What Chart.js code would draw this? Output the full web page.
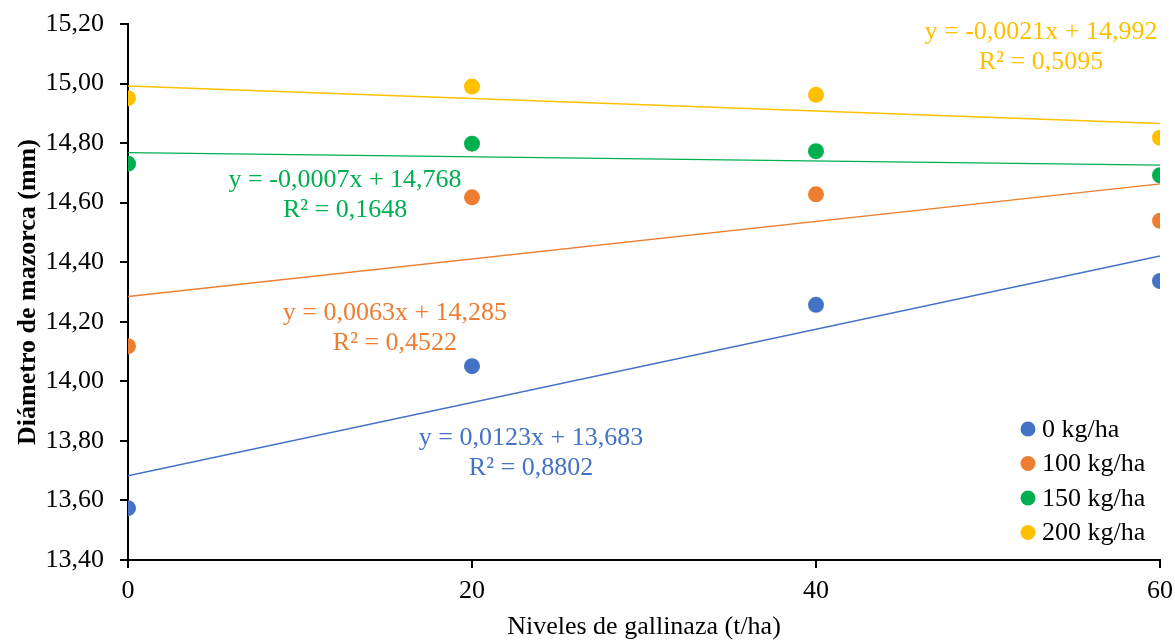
<!DOCTYPE html>
<html lang="es">
<head>
<meta charset="UTF-8">
<title>Diámetro de mazorca</title>
<script src="https://cdn.jsdelivr.net/npm/chart.js"></script>
<style>
  html, body { margin: 0; padding: 0; background: #fff; }
  #wrap { width: 1175px; height: 640px; position: relative; }
</style>
</head>
<body>
<div id="wrap"><canvas id="grafico"></canvas></div>
<script>
// niveles de gallinaza (t/ha)
var niveles = [0, 20, 40, 60];
var series = ['0 kg/ha', '100 kg/ha', '150 kg/ha', '200 kg/ha'];
var diam0 = [13.574, 14.051, 14.257, 14.337];
var diam100 = [14.118, 14.618, 14.628, 14.539];
var diam150 = [14.731, 14.798, 14.773, 14.692];
var diam200 = [14.951, 14.990, 14.962, 14.818];
// ecuaciones de tendencia que aparecen en el grafico
var pendientes = [0.0123, 0.0063, -0.0007, -0.0021];
var interceptos = [13.683, 14.285, 14.768, 14.992];
var r2 = [0.8802, 0.4522, 0.1648, 0.5095];

var colores = ['#4472C4', '#ED7D31', '#00B050', '#FFC000'];
var valores = [diam0, diam100, diam150, diam200];
// donde va cada ecuacion (en unidades de datos)
var posEtiqueta = [[23.43, 13.759], [15.52, 14.179], [12.62, 14.626], [53.08, 15.121]];

var fuente = "'Liberation Serif', 'Times New Roman', serif";

function coma(v, d) {
    return v.toFixed(d).replace('.', ',');
}

var datasets = [];
for (var i = 0; i < series.length; i++) {
    datasets.push({
        label: series[i],
        data: niveles.map(function(x, j) { return { x: x, y: valores[i][j] }; }),
        backgroundColor: colores[i],
        borderColor: colores[i],
        pointRadius: 8,
        pointHoverRadius: 8,
        pointBorderWidth: 0,
        showLine: false,
        order: 1
    });
}
for (var i = 0; i < series.length; i++) {
    var x0 = niveles[0], x1 = niveles[niveles.length - 1];
    datasets.push({
        label: 'tendencia ' + series[i],
        data: [
            { x: x0, y: interceptos[i] + pendientes[i] * x0 },
            { x: x1, y: interceptos[i] + pendientes[i] * x1 }
        ],
        borderColor: colores[i],
        backgroundColor: colores[i],
        borderWidth: 1.4,
        pointRadius: 0,
        showLine: true,
        order: 2
    });
}

var textos = {
    id: 'textos',
    afterDatasetsDraw: function(chart) {
        var ctx = chart.ctx;
        var xs = chart.scales.x, ys = chart.scales.y;
        ctx.save();
        ctx.font = '26px ' + fuente;
        ctx.textAlign = 'center';
        ctx.textBaseline = 'middle';
        for (var i = 0; i < series.length; i++) {
            var px = xs.getPixelForValue(posEtiqueta[i][0]);
            var py = ys.getPixelForValue(posEtiqueta[i][1]);
            var signo = interceptos[i] >= 0 ? ' + ' : ' - ';
            ctx.fillStyle = colores[i];
            ctx.fillText('y = ' + coma(pendientes[i], 4) + 'x' + signo + coma(Math.abs(interceptos[i]), 3), px, py - 15);
            ctx.fillText('R² = ' + coma(r2[i], 4), px, py + 15);
        }
        // leyenda dentro del area
        ctx.textAlign = 'left';
        for (var i = 0; i < series.length; i++) {
            var ly = 429 + i * 34.5;
            ctx.fillStyle = colores[i];
            ctx.beginPath();
            ctx.arc(1028, ly, 7.5, 0, Math.PI * 2);
            ctx.fill();
            ctx.fillStyle = '#000';
            ctx.fillText(series[i], 1042, ly + 1);
        }
        ctx.restore();
    }
};

var ejes = {
    x: {
        type: 'linear',
        min: 0,
        max: 60,
        afterFit: function(s) {
            s.height = 80;
            s.paddingLeft = 0;
            s.paddingRight = 0;
        },
        ticks: { stepSize: 20, color: '#000', padding: 8, maxRotation: 0, font: { family: fuente, size: 26 } },
        grid: { drawOnChartArea: false, drawTicks: true, tickLength: 8, color: '#000', lineWidth: 2 },
        border: { color: '#000', width: 2 },
        title: {
            display: true,
            text: 'Niveles de gallinaza (t/ha)',
            color: '#000',
            padding: { top: 0, bottom: 0 },
            font: { family: fuente, size: 26, lineHeight: 1 }
        }
    },
    y: {
        min: 13.4,
        max: 15.2,
        afterFit: function(s) {
            s.width = 128;
            s.paddingTop = 0;
            s.paddingBottom = 0;
        },
        ticks: {
            stepSize: 0.2,
            color: '#000',
            padding: 16,
            font: { family: fuente, size: 26 },
            callback: function(v) { return coma(v, 2); }
        },
        grid: { drawOnChartArea: false, drawTicks: true, tickLength: 8, color: '#000', lineWidth: 2 },
        border: { color: '#000', width: 2 },
        title: {
            display: true,
            text: 'Diámetro de mazorca (mm)',
            color: '#000',
            padding: { top: 15, bottom: 0 },
            font: { family: fuente, size: 26, weight: 'bold', lineHeight: 1 }
        }
    }
};

new Chart(document.getElementById('grafico'), {
    type: 'scatter',
    data: { datasets: datasets },
    options: {
        responsive: true,
        maintainAspectRatio: false,
        animation: false,
        layout: { padding: { top: 24, right: 15, left: 0, bottom: 0 } },
        plugins: {
            legend: { display: false },
            tooltip: { enabled: false }
        },
        scales: ejes
    },
    plugins: [textos]
});
</script>
</body>
</html>
